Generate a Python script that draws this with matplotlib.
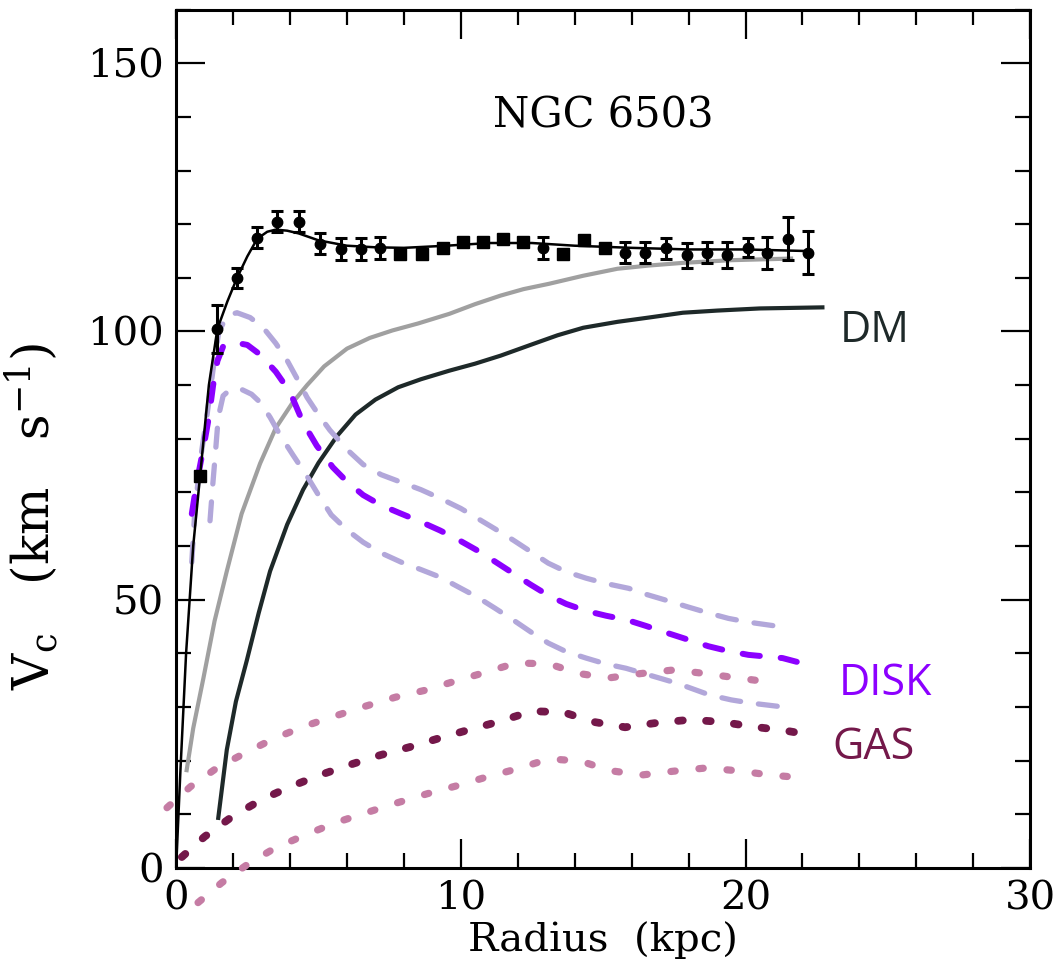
import numpy as np
import matplotlib
matplotlib.use("Agg")
import matplotlib.pyplot as plt
from matplotlib.ticker import MultipleLocator

# ============================================================
# DATA
# ============================================================

# observed points with error bars (circles)
r_circ = [1.45, 2.14, 2.85, 3.55, 4.3, 5.06, 5.8, 6.5, 7.17, 12.89,
          15.77, 16.47, 17.2, 17.95, 18.65, 19.35, 20.09, 20.76, 21.5, 22.2]
v_circ = [100.5, 110.0, 117.5, 120.5, 120.5, 116.4, 115.4, 115.4, 115.6, 115.6,
          114.7, 114.7, 115.5, 114.2, 114.7, 114.2, 115.6, 114.7, 117.3, 114.7]
e_circ = [4.5, 1.8, 1.9, 2.0, 2.0, 2.0, 2.1, 2.1, 2.1, 2.0,
          2.0, 2.0, 2.0, 2.3, 2.0, 2.4, 1.8, 3.0, 4.0, 4.0]

# observed points, small errors (squares)
r_sq = [0.84, 7.87, 8.64, 9.38, 10.08, 10.78, 11.48, 12.19, 13.6, 14.33, 15.07]
v_sq = [73.0, 114.5, 114.5, 115.6, 116.6, 116.6, 117.3, 116.6, 114.5, 117.0, 115.6]

# fit through the data
fit_r = [0.0, 0.15, 0.35, 0.6, 0.84, 1.15, 1.45, 1.8, 2.14, 2.5, 2.85, 3.2, 3.5,
         3.9, 4.3, 5.0, 6.0, 7.0, 8.0, 9.5, 11.0, 12.5, 14.0, 16.0, 18.0, 20.0, 22.2]
fit_v = [0.0, 18.0, 40.0, 60.0, 73.0, 90.0, 100.5, 105.6, 110.0, 114.0, 117.3, 118.6,
         119.0, 118.8, 118.3, 117.0, 116.0, 115.7, 115.6, 116.0, 116.5, 116.5, 116.0,
         115.6, 115.3, 115.3, 115.0]

# total model (grey)
tot_r = [0.37, 0.6, 0.96, 1.35, 1.78, 2.3, 2.95, 3.5, 4.1, 4.6, 5.2, 6.0, 6.8, 7.6,
         8.5, 9.6, 10.5, 11.4, 12.2, 13.1, 14.3, 15.5, 16.6, 17.8, 19.5, 21.6]
tot_v = [18.2, 26.0, 35.4, 46.0, 55.3, 66.0, 75.4, 82.0, 86.8, 90.0, 93.5, 96.8,
         98.8, 100.2, 101.5, 103.3, 105.1, 106.7, 107.9, 108.9, 110.4, 111.7, 112.3,
         112.8, 113.3, 113.6]

# dark matter halo
dm_r = [1.48, 1.78, 2.1, 2.48, 2.9, 3.3, 3.9, 4.46, 5.0, 5.65, 6.3, 7.0, 7.8, 8.6,
        9.6, 10.5, 11.4, 12.5, 13.4, 14.3, 15.5, 16.6, 17.8, 19.0, 20.5, 22.7]
dm_v = [9.3, 22.0, 31.0, 38.6, 47.5, 55.3, 64.0, 70.5, 75.5, 80.5, 84.5, 87.3,
        89.6, 91.1, 92.7, 94.0, 95.5, 97.6, 99.3, 100.7, 101.8, 102.6, 103.5, 103.9,
        104.3, 104.5]

# stellar disk and its bounds
disk_r = [0.55, 0.73, 0.95, 1.15, 1.3, 1.45, 1.65, 2.0, 2.5, 2.95, 3.5, 4.0, 4.46,
          4.94, 5.5, 6.0, 6.57, 7.2, 7.87, 8.6, 9.27, 9.9, 10.57, 11.2, 11.84, 12.45,
          13.07, 13.7, 14.4, 15.1, 15.84, 16.5, 17.24, 18.0, 18.7, 19.4, 20.1, 21.3, 21.8]
disk_v = [66.0, 72.0, 78.0, 84.0, 90.0, 94.5, 97.2, 98.0, 97.5, 95.7, 92.5, 88.7,
          83.0, 78.7, 74.7, 72.0, 69.5, 67.6, 66.1, 64.5, 62.9, 61.2, 59.2, 57.1, 54.9,
          52.8, 50.8, 49.2, 47.9, 47.0, 46.2, 45.1, 43.8, 42.5, 41.3, 40.4, 39.7, 39.1, 38.4]

disk_hi_r = [0.55, 0.65, 0.85, 1.1, 1.3, 1.5, 1.8, 2.14, 2.6, 3.06, 3.5, 3.9, 4.25,
             4.6, 5.0, 5.4, 6.0, 6.57, 7.2, 7.9, 8.6, 9.27, 10.0, 10.57, 11.2, 11.84,
             12.5, 13.07, 13.7, 14.4, 15.1, 15.9, 16.5, 17.2, 18.0, 18.7, 19.4, 20.1, 21.3]
disk_hi_v = [57.0, 66.0, 76.0, 85.0, 93.0, 100.0, 103.0, 103.5, 102.6, 100.7, 97.8,
             94.6, 91.2, 87.7, 84.5, 81.6, 78.0, 75.2, 73.3, 71.9, 70.5, 68.9, 67.0,
             65.2, 63.2, 61.1, 58.8, 56.8, 55.2, 54.0, 53.0, 52.1, 51.0, 49.9, 48.6,
             47.5, 46.5, 45.8, 44.9]

disk_lo_r = [1.19, 1.28, 1.37, 1.48, 1.65, 1.9, 2.3, 2.65, 2.95, 3.3, 3.65, 4.1, 4.6,
             5.0, 5.45, 6.0, 6.57, 7.2, 7.9, 8.6, 9.27, 9.9, 10.57, 11.2, 11.84, 12.45,
             13.07, 13.7, 14.4, 15.1, 15.8, 16.7, 17.6, 18.75, 19.5, 20.2, 21.3]
disk_lo_v = [64.7, 71.0, 76.7, 84.0, 88.0, 89.2, 89.2, 88.3, 86.8, 84.0, 80.7, 77.0,
             73.0, 69.5, 65.8, 63.0, 60.7, 58.7, 57.0, 55.6, 54.2, 52.4, 50.5, 48.4,
             46.2, 44.0, 41.9, 40.3, 39.1, 38.0, 37.2, 35.8, 34.4, 32.2, 31.3, 30.7, 30.0]

# gas and its bounds
gas_r = [0.2, 1.0, 1.96, 3.0, 4.0, 5.06, 6.1, 7.17, 8.2, 9.27, 10.4, 11.3, 12.5,
         13.6, 14.66, 15.77, 16.86, 18.05, 19.15, 20.27, 21.36, 21.7]
gas_v = [2.0, 5.8, 9.5, 12.7, 15.1, 17.3, 19.2, 21.0, 22.5, 24.2, 25.9, 27.2, 29.2,
         29.0, 27.2, 26.2, 27.0, 27.6, 27.2, 26.3, 25.6, 25.3]

gas_hi_r = [-0.32, 0.5, 1.43, 2.42, 3.4, 4.46, 5.47, 6.57, 7.7, 8.75, 9.8, 10.9,
            11.95, 13.1, 14.17, 15.2, 16.3, 17.5, 18.6, 19.7, 20.9]
gas_hi_v = [11.2, 15.1, 18.6, 21.4, 24.0, 26.3, 28.1, 30.0, 31.8, 33.1, 34.8, 36.5,
            38.2, 38.0, 36.2, 35.4, 36.2, 36.9, 36.2, 35.4, 34.6]

gas_lo_r = [0.77, 1.6, 2.5, 3.48, 4.53, 5.6, 6.64, 7.76, 8.82, 9.87, 10.96, 11.95,
            13.1, 14.2, 15.25, 16.36, 17.46, 18.6, 19.7, 20.85, 21.95]
gas_lo_v = [-6.5, -2.8, 0.6, 3.7, 6.1, 8.4, 10.2, 12.1, 13.8, 15.3, 17.0, 18.4,
            20.3, 19.9, 18.1, 17.3, 18.0, 18.6, 18.1, 17.3, 16.8]

# ============================================================
# STYLE
# ============================================================

plt.rcParams['font.family'] = 'DejaVu Serif'
plt.rcParams['mathtext.fontset'] = 'dejavuserif'

c_purple = "#8c00ff"
c_lav = "#b2a7da"
c_gas = "#74184a"
c_pink = "#c57ca4"
c_grey = "#a0a0a0"
c_dm = "#1e2929"

# ============================================================
# FIGURE
# ============================================================

fig = plt.figure(figsize=(10.61, 9.75), dpi=100)
ax = fig.add_axes([0.166, 0.110, 0.805, 0.880])

# models
ax.plot(tot_r, tot_v, color=c_grey, lw=3.0, zorder=3)
ax.plot(dm_r, dm_v, color=c_dm, lw=3.0, zorder=3)

dash_kw = dict(dash_capstyle='round', solid_capstyle='round')
ax.plot(disk_hi_r, disk_hi_v, color=c_lav, lw=3.8, dashes=(3.6, 3.4), zorder=3, **dash_kw)
ax.plot(disk_lo_r, disk_lo_v, color=c_lav, lw=3.8, dashes=(3.6, 3.4), zorder=3, **dash_kw)
ax.plot(disk_r, disk_v, color=c_purple, lw=4.3, dashes=(2.9, 3.5), zorder=4, **dash_kw)

ax.plot(gas_hi_r, gas_hi_v, color=c_pink, lw=5.2, dashes=(0.6, 3.3),
        zorder=4, clip_on=False, **dash_kw)
ax.plot(gas_lo_r, gas_lo_v, color=c_pink, lw=5.2, dashes=(0.6, 3.3),
        zorder=4, clip_on=False, **dash_kw)
ax.plot(gas_r, gas_v, color=c_gas, lw=5.6, dashes=(0.6, 3.0), zorder=4, **dash_kw)

# data + fit
ax.plot(fit_r, fit_v, color='black', lw=1.8, zorder=5)
ax.errorbar(r_circ, v_circ, yerr=e_circ, fmt='o', color='black', ms=7.5,
            capsize=4, elinewidth=2.2, capthick=2.2, zorder=6)
ax.plot(r_sq, v_sq, 's', color='black', ms=8, zorder=6)

# ============================================================
# LABELS
# ============================================================

ax.text(15.0, 140.2, 'NGC 6503', ha='center', va='center', fontsize=30)
ax.text(24.55, 100.2, 'DM', ha='center', va='center', fontsize=31,
        family='Open Sans', color=c_dm)
ax.text(24.9, 34.4, 'DISK', ha='center', va='center', fontsize=31,
        family='Open Sans', color=c_purple)
ax.text(24.5, 22.3, 'GAS', ha='center', va='center', fontsize=31,
        family='Open Sans', color=c_gas)

ax.set_xlabel('Radius  (kpc)', fontsize=29, labelpad=3)
ax.set_ylabel(r'V$_{\rm c}$   (km   s$^{-1}$)', fontsize=36)
ax.yaxis.set_label_coords(-0.136, 0.41)

# ============================================================
# AXES
# ============================================================

ax.set_xlim(0, 30)
ax.set_ylim(0, 160)
ax.set_xticks([0, 10, 20, 30])
ax.set_yticks([0, 50, 100, 150])
ax.xaxis.set_minor_locator(MultipleLocator(2))
ax.yaxis.set_minor_locator(MultipleLocator(10))

ax.tick_params(axis='both', which='major', direction='in', top=True, right=True,
               length=21, width=1.6, labelsize=29, pad=9)
ax.tick_params(axis='both', which='minor', direction='in', top=True, right=True,
               length=11, width=1.6)

for spine in ax.spines.values():
    spine.set_linewidth(2.2)

# ============================================================
# SAVE
# ============================================================

fig.savefig("out.png", dpi=100)
